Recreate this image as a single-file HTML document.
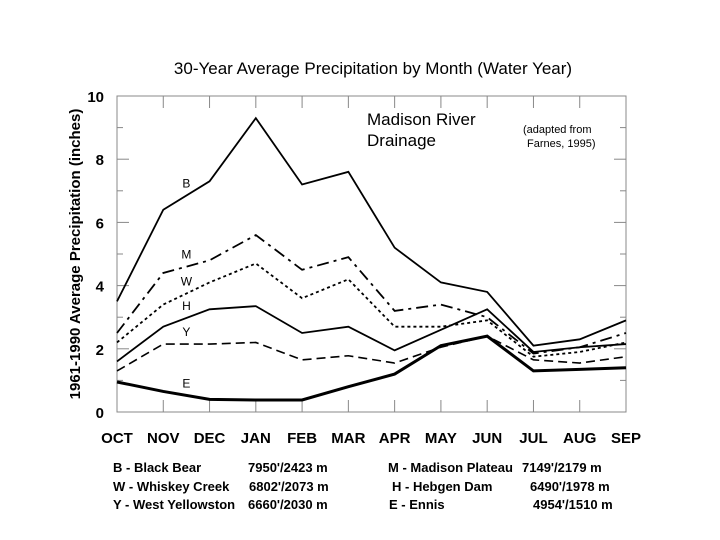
<!DOCTYPE html>
<html><head><meta charset="utf-8"><style>
body{margin:0;background:#fff}
svg{display:block;font-family:"Liberation Sans",Arial,sans-serif}
</style></head><body>
<svg id="c" width="720" height="540" viewBox="0 0 720 540">
<text x="373" y="74" font-size="17" text-anchor="middle">30-Year Average Precipitation by Month (Water Year)</text>
<text transform="translate(80,254) rotate(-90)" font-size="15" font-weight="bold" text-anchor="middle">1961-1990  Average Precipitation (inches)</text>
<rect x="117" y="96" width="509" height="316" fill="none" stroke="#888" stroke-width="1"/>
<g id="ticks"></g>
<g id="series"></g>
<text x="367" y="125" font-size="17">Madison River</text>
<text x="367" y="146" font-size="17">Drainage</text>
<text x="523" y="133" font-size="11">(adapted from</text>
<text x="527" y="147" font-size="11">Farnes, 1995)</text>
<g font-size="13" font-weight="bold">
<text x="113" y="472">B - Black Bear</text>
<text x="248" y="472">7950'/2423 m</text>
<text x="113" y="491">W - Whiskey Creek</text>
<text x="249" y="491">6802'/2073 m</text>
<text x="113" y="509">Y - West Yellowston</text>
<text x="248" y="509">6660'/2030 m</text>
<text x="388" y="472">M - Madison Plateau</text>
<text x="522" y="472">7149'/2179 m</text>
<text x="392" y="491">H - Hebgen Dam</text>
<text x="530" y="491">6490'/1978 m</text>
<text x="389" y="509">E -  Ennis</text>
<text x="533" y="509">4954'/1510 m</text>
</g>
</svg>
<script>
const months=["OCT","NOV","DEC","JAN","FEB","MAR","APR","MAY","JUN","JUL","AUG","SEP"];
const yTicks=[0,2,4,6,8,10];
const seriesB=[3.5,6.4,7.3,9.3,7.2,7.6,5.2,4.1,3.8,2.1,2.3,2.9];
const seriesM=[2.5,4.4,4.8,5.6,4.5,4.9,3.2,3.4,3.0,1.85,2.05,2.5];
const seriesW=[2.2,3.4,4.1,4.7,3.6,4.2,2.7,2.7,2.9,1.75,1.9,2.2];
const seriesH=[1.6,2.7,3.25,3.35,2.5,2.7,1.95,2.6,3.25,1.9,2.05,2.15];
const seriesY=[1.3,2.15,2.15,2.2,1.65,1.78,1.55,2.05,2.4,1.65,1.55,1.75];
const seriesE=[0.95,0.65,0.4,0.38,0.38,0.8,1.2,2.1,2.4,1.3,1.35,1.4];
const NS="http://www.w3.org/2000/svg";
const X0=117,X1=626,Y0=412,Y1=96;
const xs=i=>X0+i*(X1-X0)/(months.length-1);
const ys=v=>Y0-(v/10)*(Y0-Y1);
function mk(t,a,p){const e=document.createElementNS(NS,t);for(const k in a)e.setAttribute(k,a[k]);p.appendChild(e);return e;}
const tg=document.getElementById('ticks');
months.forEach((m,i)=>{
  const x=xs(i);
  if(i>0&&i<months.length-1){
    const a=mk('line',{x1:x,x2:x,y1:Y0,y2:Y0-12,stroke:'#888'},tg);
    
    const b=mk('line',{x1:x,x2:x,y1:Y1,y2:Y1+12,stroke:'#888'},tg);
    
  }
  const t=mk('text',{x:x,y:443,'font-size':15,'font-weight':'bold','text-anchor':'middle'},tg);
  t.textContent=m;
  
  
});
for(let v=1;v<10;v++){
  const y=ys(v),len=(v%2==0)?12:6;
  const a=mk('line',{x1:X0,x2:X0+len,y1:y,y2:y,stroke:'#888'},tg);
  
  const b=mk('line',{x1:X1,x2:X1-len,y1:y,y2:y,stroke:'#888'},tg);
  
}
yTicks.forEach(v=>{
  const t=mk('text',{x:104,y:ys(v)+6,'font-size':15,'font-weight':'bold','text-anchor':'end'},tg);
  t.textContent=v;
  
  
});
const sg=document.getElementById('series');
const defs=[
 {d:seriesB,n:'series-black-bear',w:1.8,da:'',lab:'B',li:1.5,lo:-8},
 {d:seriesM,n:'series-madison-plateau',w:1.8,da:'12,5,3,5',lab:'M',li:1.5,lo:-8},
 {d:seriesW,n:'series-whiskey-creek',w:1.8,da:'3,3',lab:'W',li:1.5,lo:-8},
 {d:seriesH,n:'series-hebgen-dam',w:1.8,da:'',lab:'H',li:1.5,lo:-8},
 {d:seriesY,n:'series-west-yellowstone',w:1.6,da:'9,5',lab:'Y',li:1.5,lo:-8},
 {d:seriesE,n:'series-ennis',w:3,da:'',lab:'E',li:1.5,lo:-8}
];
defs.forEach(s=>{
  const pts=s.d.map((v,i)=>xs(i)+','+ys(v)).join(' ');
  const p=mk('polyline',{points:pts,fill:'none',stroke:'#000','stroke-width':s.w,'stroke-dasharray':s.da,'stroke-linejoin':'miter'},sg);
  
  
  const v=(s.d[1]+s.d[2])/2;
  const t=mk('text',{x:xs(s.li),y:ys(v)+s.lo,'font-size':12,'text-anchor':'middle'},sg);
  t.textContent=s.lab;
  
  
});
</script>
</body></html>
